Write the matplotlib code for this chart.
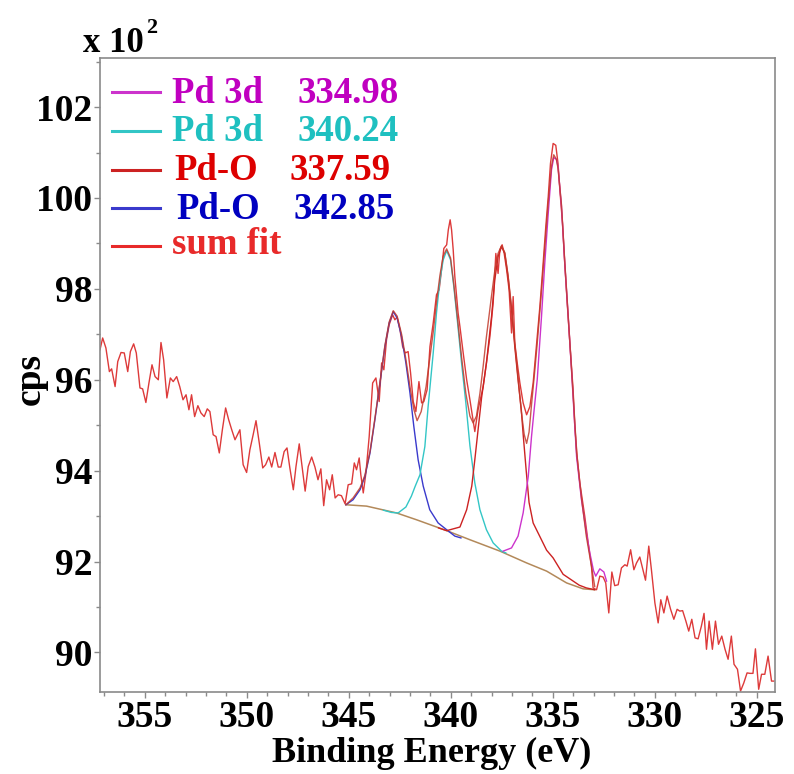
import matplotlib
matplotlib.use("Agg")
import matplotlib.pyplot as plt
from matplotlib.ticker import MultipleLocator

# ---------------- data ----------------
raw_be = [357.20, 357.07, 356.91, 356.74, 356.63, 356.46, 356.33, 356.17, 356.01, 355.84,
          355.71, 355.55, 355.42, 355.24, 355.11, 354.95, 354.80, 354.65, 354.50, 354.34,
          354.21, 354.08, 353.92, 353.75, 353.61, 353.44, 353.29, 353.13, 352.98, 352.84,
          352.71, 352.56, 352.40, 352.25, 352.09, 351.94, 351.81, 351.65, 351.51, 351.35,
          351.20, 351.04, 350.89, 350.74, 350.58, 350.34, 350.18, 350.01, 349.85, 349.69,
          349.55, 349.39, 349.22, 349.08, 348.92, 348.78, 348.62, 348.46, 348.33, 348.17,
          348.03, 347.89, 347.72, 347.59, 347.43, 347.28, 347.14, 346.99, 346.82, 346.66,
          346.51, 346.37, 346.23, 346.09, 345.94, 345.81, 345.67, 345.52, 345.36, 345.18,
          345.03, 344.86, 344.73, 344.62, 344.49, 344.41, 344.29, 344.16, 344.00, 343.83,
          343.67, 343.51, 343.39, 343.28, 343.15, 343.02, 342.85, 342.74, 342.63, 342.49,
          342.36, 342.23, 342.09, 341.97, 341.84, 341.71, 341.56, 341.43, 341.32, 341.16,
          341.02, 340.86, 340.70, 340.57, 340.48, 340.34, 340.20, 340.12, 340.03, 339.96,
          339.88, 339.80, 339.71, 339.64, 339.55, 339.39, 339.22, 339.06, 338.90, 338.82,
          338.66, 338.41, 338.25, 338.08, 337.92, 337.79, 337.68, 337.59, 337.48, 337.38,
          337.26, 337.14, 337.02, 336.94, 336.86, 336.74, 336.61, 336.45, 336.28, 336.12,
          335.96, 335.79, 335.63, 335.47, 335.34, 335.22, 335.11, 334.98, 334.85, 334.74,
          334.65, 334.52, 334.41, 334.29, 334.16, 334.00, 333.92, 333.80, 333.67, 333.43,
          333.26, 333.10, 333.02, 332.85, 332.69, 332.53, 332.40, 332.25, 332.10, 331.96,
          331.79, 331.63, 331.46, 331.35, 331.18, 331.02, 330.89, 330.73, 330.60, 330.45,
          330.29, 330.16, 329.99, 329.83, 329.70, 329.55, 329.39, 329.22, 329.06, 328.90,
          328.77, 328.63, 328.47, 328.33, 328.18, 328.02, 327.87, 327.71, 327.58, 327.46,
          327.33, 327.17, 327.02, 326.87, 326.71, 326.55, 326.40, 326.24, 326.11, 325.94,
          325.79, 325.63, 325.47, 325.32, 325.18, 325.06, 324.90, 324.76, 324.60, 324.44,
          324.27, 324.16]
raw_cps = [96.66, 96.92, 96.70, 96.18, 96.24, 95.85, 96.40, 96.60, 96.59, 96.18,
           96.62, 96.79, 96.59, 95.82, 95.80, 95.50, 95.93, 96.33, 96.07, 96.00,
           96.82, 96.44, 95.60, 96.04, 95.96, 96.07, 95.85, 95.56, 95.67, 95.34,
           95.67, 95.19, 95.43, 95.27, 95.19, 95.36, 95.30, 94.79, 94.75, 94.39,
           94.90, 95.38, 95.12, 94.90, 94.68, 94.90, 94.13, 93.96, 94.46, 94.79,
           95.10, 94.61, 94.06, 94.13, 94.30, 94.08, 94.40, 94.08, 94.08, 94.42,
           94.50, 94.06, 93.58, 94.09, 94.59, 94.06, 93.55, 94.09, 94.30, 94.08,
           93.80, 94.04, 93.23, 93.80, 93.58, 93.91, 93.40, 93.47, 93.45, 93.27,
           93.69, 93.71, 94.17, 94.02, 94.28, 93.91, 93.51, 93.95, 94.75, 95.93,
           96.04, 95.52, 96.37, 96.22, 96.88, 97.21, 97.43, 97.32, 97.38, 97.10,
           96.73, 96.59, 96.62, 96.15, 95.52, 95.30, 95.96, 95.49, 95.52, 95.78,
           96.73, 97.25, 97.87, 97.98, 98.31, 98.89, 98.97, 99.30, 99.52, 99.30,
           98.86, 98.27, 97.83, 97.47, 97.17, 96.59, 96.00, 95.56, 95.10, 94.86,
           95.34, 95.85, 96.37, 96.95, 97.69, 98.78, 98.34, 98.86, 98.97, 98.78,
           98.42, 97.98, 97.03, 97.83, 96.81, 96.37, 95.93, 95.49, 95.23, 95.41,
           95.93, 96.81, 97.61, 98.56, 99.37, 100.03, 100.76, 101.20, 101.16, 100.76,
           100.18, 99.44, 98.56, 97.69, 96.81, 95.78, 95.00, 94.30, 93.73, 93.00,
           92.41, 91.90, 91.42, 91.38, 91.68, 91.66, 91.53, 90.87, 91.77, 91.47,
           91.49, 91.86, 91.93, 91.90, 92.26, 91.82, 91.97, 92.10, 91.86, 91.59,
           92.34, 91.82, 91.09, 90.65, 91.16, 90.87, 91.24, 90.95, 90.73, 90.95,
           90.91, 90.92, 90.69, 90.47, 90.73, 90.32, 90.30, 90.58, 90.86, 90.07,
           90.69, 90.07, 90.69, 90.18, 90.36, 90.07, 89.85, 90.36, 89.74, 89.63,
           89.15, 89.33, 89.55, 89.54, 89.54, 90.08, 89.19, 89.52, 89.52, 89.92,
           89.37, 89.37]

bg_be = [345.14, 344.13, 342.66, 341.68, 340.20, 339.06, 337.59, 336.28, 335.30, 334.32,
         333.51, 332.94]
bg_cps = [93.25, 93.22, 93.07, 92.92, 92.68, 92.48, 92.23, 91.97, 91.79, 91.53,
          91.40, 91.38]

# Pd-O 342.85 (blue)
pdo2_be = [345.14, 344.79, 344.45, 344.21, 343.96, 343.72, 343.47, 343.23, 343.02, 342.82,
           342.63, 342.41, 342.20, 342.00, 341.81, 341.60, 341.35, 341.03, 340.62, 340.20,
           339.80, 339.50]
pdo2_cps = [93.25, 93.36, 93.58, 93.87, 94.39, 95.12, 95.93, 96.73, 97.25, 97.50,
            97.36, 96.95, 96.37, 95.71, 94.97, 94.24, 93.66, 93.14, 92.85, 92.70,
            92.56, 92.52]

# Pd 3d 340.24 (cyan)
pd2_be = [343.30, 342.90, 342.58, 342.20, 341.93, 341.75, 341.51, 341.27, 341.11, 340.86,
          340.70, 340.53, 340.37, 340.20, 340.01, 339.85, 339.68, 339.47, 339.26, 339.06,
          338.82, 338.57, 338.25, 337.92, 337.51, 337.30]
pd2_cps = [93.13, 93.08, 93.07, 93.20, 93.44, 93.65, 93.91, 94.53, 95.41, 96.59,
           97.47, 98.20, 98.64, 98.84, 98.64, 98.05, 97.32, 96.37, 95.49, 94.55,
           93.73, 93.14, 92.70, 92.41, 92.23, 92.19]

# Pd-O 337.59 (red)
pdo1_be = [340.60, 340.20, 339.55, 339.22, 338.97, 338.82, 338.66, 338.49, 338.25, 338.00,
           337.84, 337.68, 337.51, 337.35, 337.19, 337.02, 336.86, 336.70, 336.54, 336.45,
           336.30, 336.16, 335.96, 335.63, 335.30, 334.98, 334.49, 334.16, 333.70, 333.35,
           332.94]
pdo1_cps = [92.74, 92.68, 92.76, 93.14, 93.66, 94.24, 94.90, 95.60, 96.37, 97.39,
            98.20, 98.71, 98.93, 98.78, 98.27, 97.54, 96.73, 96.00, 95.34, 94.80,
            94.00, 93.30, 92.85, 92.55, 92.25, 92.08, 91.72, 91.62, 91.48, 91.42,
            91.38]

# Pd 3d 334.98 (magenta)
pd1_be = [337.43, 337.02, 336.70, 336.45, 336.20, 336.04, 335.92, 335.76, 335.55, 335.39,
          335.22, 335.06, 334.95, 334.82, 334.74, 334.57, 334.41, 334.24, 334.08, 333.92,
          333.83, 333.59, 333.35, 333.18, 333.00, 332.89, 332.69, 332.49, 332.36]
pd1_cps = [92.23, 92.30, 92.56, 93.07, 93.87, 94.75, 95.30, 96.00, 97.39, 98.56,
           99.66, 100.62, 100.89, 100.85, 100.69, 99.81, 98.56, 97.39, 96.22, 95.00,
           94.31, 93.36, 92.63, 92.19, 91.80, 91.68, 91.84, 91.77, 91.57]

# sum fit
sum_be = [345.14, 344.79, 344.45, 344.21, 343.96, 343.72, 343.47, 343.23, 343.02, 342.82,
          342.63, 342.41, 342.20, 342.00, 341.81, 341.65, 341.45, 341.21, 341.02, 340.86,
          340.70, 340.53, 340.37, 340.20, 340.01, 339.85, 339.68, 339.47, 339.26, 339.06,
          338.90, 338.74, 338.57, 338.41, 338.25, 338.00, 337.84, 337.68, 337.51, 337.35,
          337.19, 337.02, 336.86, 336.70, 336.54, 336.40, 336.28, 336.16, 336.04, 335.88,
          335.76, 335.55, 335.39, 335.22, 335.06, 334.95, 334.82, 334.74, 334.57, 334.41,
          334.24, 334.08, 333.92, 333.83, 333.59, 333.35, 333.10, 332.94]
sum_cps = [93.25, 93.40, 93.62, 93.90, 94.42, 95.15, 95.95, 96.75, 97.27, 97.52,
           97.40, 97.00, 96.45, 95.85, 95.35, 95.10, 95.30, 95.85, 96.50, 97.05,
           97.70, 98.30, 98.72, 98.88, 98.68, 98.10, 97.40, 96.50, 95.70, 95.20,
           95.05, 95.20, 95.70, 96.30, 96.95, 97.85, 98.40, 98.78, 98.95, 98.80,
           98.30, 97.60, 96.80, 96.05, 95.30, 94.80, 94.60, 94.85, 95.45, 96.20,
           96.80, 97.95, 98.90, 99.90, 100.70, 100.95, 100.85, 100.65, 99.85, 98.60,
           97.40, 96.25, 95.10, 94.40, 93.40, 92.55, 91.90, 91.45]

legend_names = ["Pd 3d", "Pd 3d", "Pd-O", "Pd-O", "sum fit"]
legend_values = ["334.98", "340.24", "337.59", "342.85", ""]

x_ticks = [355, 350, 345, 340, 335, 330, 325]
y_ticks = [90, 92, 94, 96, 98, 100, 102]

# ---------------- styling ----------------
SERIF = ["Liberation Serif", "DejaVu Serif"]
plt.rcParams["font.family"] = SERIF
plt.rcParams["font.weight"] = "bold"

c_raw = "#dd3a3a"
c_sum = "#c23b2c"
c_bg = "#b3895a"
line_cols = ["#cc33cc", "#33c6c6", "#cc2222", "#3a3acc", "#e82a2a"]
text_cols = ["#c000c0", "#1fc0c0", "#dd0000", "#0000c0", "#e82a2a"]

fig = plt.figure(figsize=(7.94, 7.74), dpi=100)
ax = fig.add_axes([100 / 794, 82 / 774, 675 / 794, 634 / 774])

ax.plot(raw_be, raw_cps, color=c_raw, lw=1.0, zorder=2)
ax.plot(bg_be, bg_cps, color=c_bg, lw=1.1, zorder=3)
ax.plot(pdo2_be, pdo2_cps, color=line_cols[3], lw=1.0, zorder=3)
ax.plot(pd2_be, pd2_cps, color=line_cols[1], lw=1.0, zorder=3)
ax.plot(pdo1_be, pdo1_cps, color=line_cols[2], lw=1.0, zorder=3)
ax.plot(pd1_be, pd1_cps, color=line_cols[0], lw=1.0, zorder=3)
ax.plot(sum_be, sum_cps, color=c_sum, lw=1.0, alpha=0.85, zorder=4)

ax.set_xlim(357.2, 324.1)
ax.set_ylim(89.13, 103.08)
ax.set_xticks(x_ticks)
ax.set_yticks(y_ticks)
ax.xaxis.set_minor_locator(MultipleLocator(1))
ax.yaxis.set_minor_locator(MultipleLocator(1))

for s in ax.spines.values():
    s.set_color("#8a8a8a")
    s.set_linewidth(1.2)
ax.tick_params(which="both", direction="out", color="#8a8a8a", width=1.0)
ax.tick_params(which="major", length=4, pad=1.5, labelsize=27)
ax.tick_params(which="minor", length=3)
for lab in ax.get_xticklabels() + ax.get_yticklabels():
    lab.set_fontweight("bold")

# legend (manual, colored text)
line_y = [0.946, 0.885, 0.823, 0.763, 0.703]
base_y = [0.929, 0.869, 0.808, 0.746, 0.691]
name_x = [0.107, 0.107, 0.110, 0.113, 0.107]
val_x = [0.293, 0.293, 0.281, 0.286, 0.0]
for i in range(5):
    ax.plot([0.018, 0.089], [line_y[i], line_y[i]], transform=ax.transAxes,
            color=line_cols[i], lw=2.2, zorder=5)
    ax.text(name_x[i], base_y[i], legend_names[i], transform=ax.transAxes,
            color=text_cols[i], fontsize=26.5, fontweight="bold", va="baseline", ha="left")
    if legend_values[i]:
        ax.text(val_x[i], base_y[i], legend_values[i], transform=ax.transAxes,
                color=text_cols[i], fontsize=26.5, fontweight="bold", va="baseline", ha="left")

# axis labels
fig.text(432 / 794, 12 / 774, "Binding Energy (eV)", fontsize=26, fontweight="bold",
         ha="center", va="baseline")
fig.text(30 / 794, (774 - 379) / 774, "cps", fontsize=27, fontweight="bold",
         rotation=90, ha="center", va="center")
fig.text(83 / 794, (774 - 52) / 774, "x 10", fontsize=25, fontweight="bold",
         ha="left", va="baseline")
fig.text(146 / 794, (774 - 33) / 774, "2", fontsize=16, fontweight="bold",
         ha="left", va="baseline")

fig.savefig("out.png", dpi=100)
